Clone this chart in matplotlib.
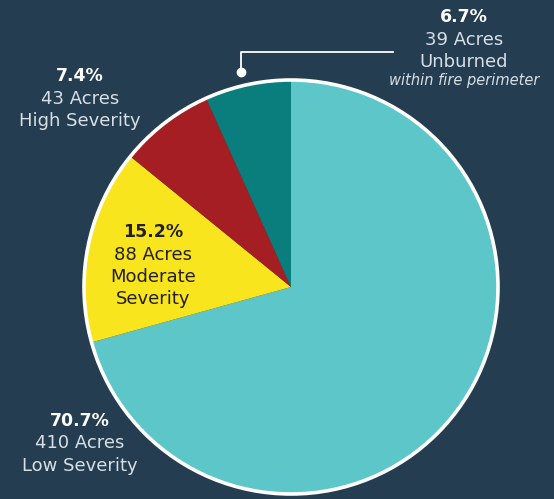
import matplotlib
matplotlib.use("Agg")
import matplotlib.pyplot as plt
from matplotlib.patches import Circle

categories = ["Low Severity", "Moderate Severity", "High Severity", "Unburned"]
acres = [410, 88, 43, 39]
percents = ["70.7%", "15.2%", "7.4%", "6.7%"]
colors = ["#5cc6c8", "#f9e51d", "#a51e24", "#0a7e7d"]

BG = "#243d51"
W, H = 554, 499
fig = plt.figure(figsize=(W / 100, H / 100), dpi=100, facecolor=BG)
ax = fig.add_axes([0, 0, 1, 1])
ax.set_facecolor(BG)

cx, cy, r = 291, H - 287, 207
ax.pie(acres, colors=colors, startangle=90, counterclock=False,
       center=(cx, cy), radius=r, frame=True,
       wedgeprops=dict(linewidth=0, antialiased=True))
ax.set_xlim(0, W)
ax.set_ylim(0, H)
ax.set_aspect("equal")
ax.axis("off")
ax.add_patch(Circle((cx, cy), r, fill=False, edgecolor="white", linewidth=2.6, zorder=5))

FONT = "DejaVu Sans"
light = "#d8dfe5"
dark = "#231f20"
FS = 13

def label(x, y, lines, color, italic_last=False):
    for i, t in enumerate(lines):
        yy = H - (y + i * 22.5)
        if i == 0:
            ax.text(x, yy, t, ha="center", va="center", color=color if color == dark else "white",
                    fontsize=12.5, fontweight="bold", family=FONT)
        elif italic_last and i == len(lines) - 1:
            ax.text(x, H - (y + (i - 1) * 22.5 + 18), t, ha="center", va="center", color=light,
                    fontsize=10.5, style="italic", family=FONT)
        else:
            ax.text(x, yy, t, ha="center", va="center", color=color,
                    fontsize=FS, family=FONT)

label(464, 17, [percents[3], f"{acres[3]} Acres", "Unburned", "within fire perimeter"], light, italic_last=True)
label(80, 76, [percents[2], f"{acres[2]} Acres", "High Severity"], light)
label(153, 232, [percents[1], f"{acres[1]} Acres", "Moderate", "Severity"], dark)
label(80, 421, [percents[0], f"{acres[0]} Acres", "Low Severity"], light)

# leader line for Unburned
ax.plot([241, 241, 393], [H - 72, H - 52, H - 52], color="white", lw=1.3, zorder=6)
ax.plot([241], [H - 72], "o", color="white", ms=6, zorder=6)

fig.savefig("out.png", dpi=100, facecolor=BG)
